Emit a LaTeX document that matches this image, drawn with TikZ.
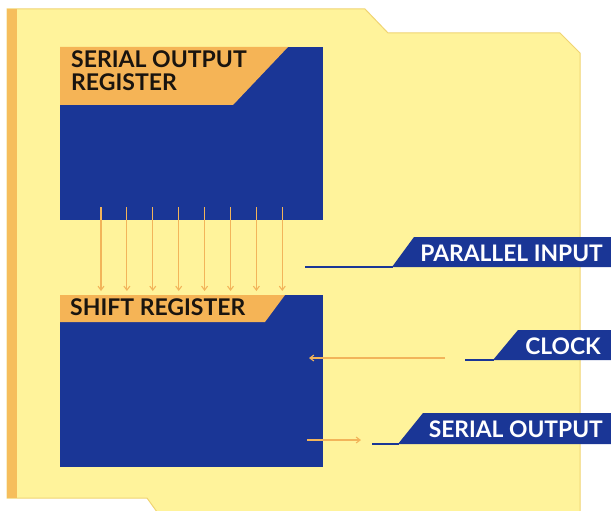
\documentclass[tikz,border=0pt]{standalone}
\usepackage{fontspec}
\setmainfont{Lato}
\usetikzlibrary{arrows.meta}
\definecolor{cardyellow}{RGB}{255,243,155}
\definecolor{cardedge}{RGB}{240,212,115}
\definecolor{stripor}{RGB}{246,190,92}
\definecolor{labelor}{RGB}{245,180,86}
\definecolor{regblue}{RGB}{26,54,150}
\definecolor{arrowor}{RGB}{242,180,90}
\definecolor{txtdark}{RGB}{25,20,15}
\tikzset{
  regtext/.style={font=\fontsize{23}{24}\selectfont\bfseries, text=txtdark, inner sep=0pt, anchor=base west, align=left},
  tagtext/.style={font=\fontsize{22.8}{24}\selectfont\bfseries, text=white, inner sep=0pt, anchor=base east},
  dataarrow/.style={draw=arrowor, line width=1.1pt, -{Straight Barb[length=4pt,width=6pt]}},
  tagline/.style={draw=regblue, line width=2pt},
}
\begin{document}
\begin{tikzpicture}[x=1pt,y=-1pt]
\clip (0,0) rectangle (611,511);
\fill[white] (0,0) rectangle (611,511);
% card
\filldraw[fill=cardyellow, draw=cardedge, line width=1pt]
  (7,9) -- (365,9) -- (388,33) -- (560,33) -- (580,53) -- (580,530)
  -- (170,530) -- (147,498) -- (7,498) -- cycle;
\fill[stripor] (7,9) rectangle (17,498);
% serial output register
\fill[regblue] (60,47) rectangle (323,220);
\fill[labelor] (60,47) -- (288,47) -- (233,105) -- (60,105) -- cycle;
\node[regtext] (sor1) at (71,67) {SERIAL OUTPUT};
\node[regtext] (sor2) at (71,91) {REGISTER};
% shift register
\fill[regblue] (60,295) rectangle (323,467);
\fill[labelor] (60,295) -- (285,295) -- (265,322) -- (60,322) -- cycle;
\node[regtext] (sr) at (70,315) {SHIFT REGISTER};
% parallel arrows
\foreach \i in {0,...,7} {
  \coordinate (a\i) at ({101+25.9*\i},207);
  \coordinate (b\i) at ({101+25.9*\i},291);
  \draw[dataarrow] (a\i) -- (b\i);
}
% tags
\fill[regblue] (392,267) -- (414,237) -- (611,237) -- (611,267) -- cycle;
\node[tagtext] (pin) at (603,261) {PARALLEL INPUT};
\coordinate (pinL) at (305,267);
\coordinate (pinT) at (393,267);
\draw[tagline] (pinL) -- (pinT);

\fill[regblue] (493,360) -- (518,330) -- (611,330) -- (611,360) -- cycle;
\node[tagtext] (clk) at (601,354) {CLOCK};
\coordinate (clkL) at (465,360);
\coordinate (clkT) at (494,360);
\draw[tagline] (clkL) -- (clkT);
\coordinate (clkA) at (445,358);
\coordinate (clkB) at (309,358);
\draw[dataarrow] (clkA) -- (clkB);

\fill[regblue] (398,444) -- (423,413) -- (611,413) -- (611,444) -- cycle;
\node[tagtext] (sout) at (603,437) {SERIAL OUTPUT};
\coordinate (soutL) at (372,444);
\coordinate (soutT) at (399,444);
\draw[tagline] (soutL) -- (soutT);
\coordinate (soA) at (307,440);
\coordinate (soB) at (361,440);
\draw[dataarrow] (soA) -- (soB);
\end{tikzpicture}
\end{document}
